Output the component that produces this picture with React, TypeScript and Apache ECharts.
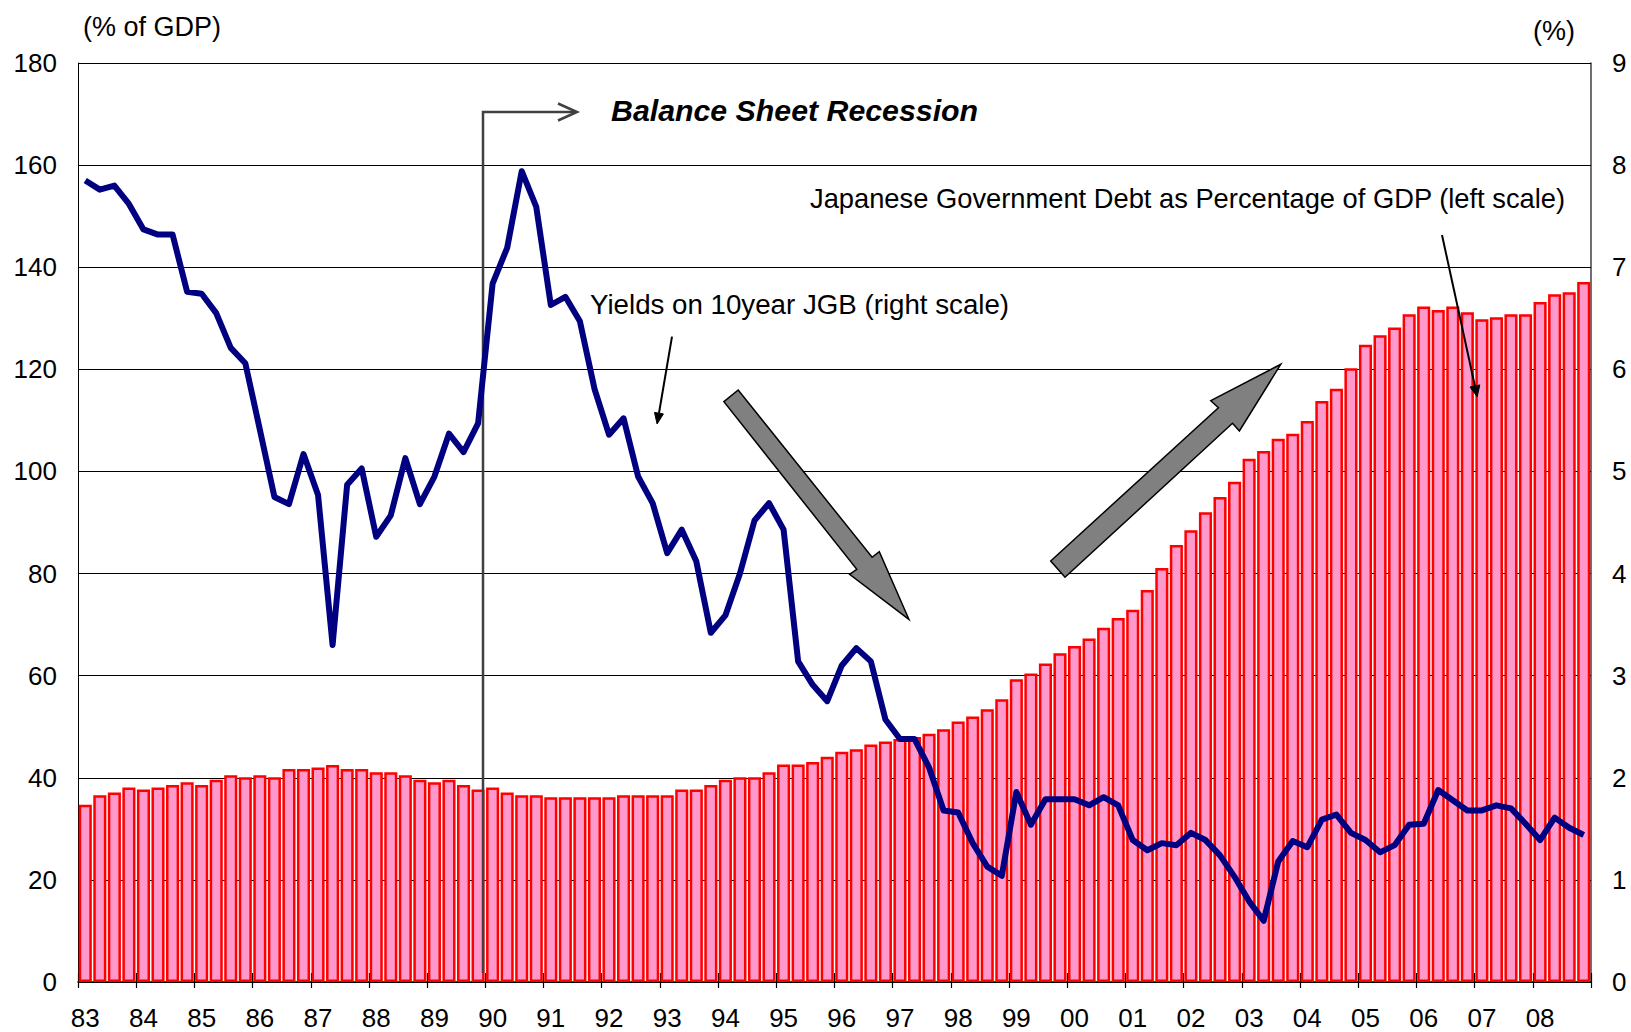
import React, { useEffect, useRef } from "react";
import * as echarts from "echarts";

const years: string[] = [
  "83", "84", "85", "86", "87", "88", "89", "90", "91", "92", "93", "94", "95",
  "96", "97", "98", "99", "00", "01", "02", "03", "04", "05", "06", "07", "08",
];

// Quarterly categories (Q1..Q4 for each year)
const quarters: string[] = years.flatMap((y) => [1, 2, 3, 4].map((q) => `${y}Q${q}`));

// Japanese Government Debt as % of GDP (left scale), quarterly 1983Q1 - 2008Q4
const debtToGdp: number[] = [
  34.7, 36.6, 37.1, 38.1, // 83
  37.7, 38.1, 38.6, 39.1, // 84
  38.6, 39.6, 40.5, 40.1, // 85
  40.5, 40.1, 41.7, 41.7, // 86
  42.0, 42.5, 41.7, 41.7, // 87
  41.1, 41.1, 40.5, 39.6, // 88
  39.1, 39.6, 38.6, 37.7, // 89
  38.1, 37.1, 36.6, 36.6, // 90
  36.2, 36.2, 36.2, 36.2, // 91
  36.2, 36.6, 36.6, 36.6, // 92
  36.6, 37.7, 37.7, 38.6, // 93
  39.6, 40.1, 40.1, 41.1, // 94
  42.6, 42.6, 43.1, 44.1, // 95
  45.1, 45.6, 46.5, 47.1, // 96
  47.6, 48.0, 48.6, 49.5, // 97
  51.0, 52.0, 53.4, 55.4, // 98
  59.3, 60.4, 62.4, 64.4, // 99
  65.8, 67.3, 69.4, 71.3, // 00
  72.9, 76.8, 81.1, 85.6, // 01
  88.5, 92.0, 95.0, 98.0, // 02
  102.5, 104.0, 106.4, 107.4, // 03
  109.9, 113.8, 116.2, 120.2, // 04
  124.8, 126.7, 128.2, 130.8, // 05
  132.3, 131.6, 132.3, 131.2, // 06
  129.8, 130.2, 130.8, 130.8, // 07
  133.2, 134.7, 135.1, 137.1, // 08
];

// Yields on 10-year JGB (right scale, %), quarterly
const jgbYield: number[] = [
  7.85, 7.76, 7.80, 7.62, // 83
  7.37, 7.32, 7.32, 6.76, // 84
  6.74, 6.55, 6.21, 6.06, // 85
  5.41, 4.75, 4.68, 5.17, // 86
  4.77, 3.30, 4.87, 5.03, // 87
  4.36, 4.57, 5.13, 4.68, // 88
  4.95, 5.37, 5.19, 5.47, // 89
  6.84, 7.19, 7.94, 7.59, // 90
  6.63, 6.71, 6.47, 5.81, // 91
  5.36, 5.52, 4.95, 4.69, // 92
  4.20, 4.43, 4.12, 3.42, // 93
  3.59, 4.00, 4.52, 4.69, // 94
  4.43, 3.14, 2.91, 2.75, // 95
  3.10, 3.27, 3.14, 2.57, // 96
  2.38, 2.38, 2.10, 1.68, // 97
  1.66, 1.36, 1.13, 1.04, // 98
  1.86, 1.54, 1.79, 1.79, // 99
  1.79, 1.73, 1.81, 1.73, // 00
  1.39, 1.29, 1.36, 1.34, // 01
  1.46, 1.39, 1.24, 1.03, // 02
  0.79, 0.60, 1.18, 1.38, // 03
  1.32, 1.59, 1.64, 1.46, // 04
  1.39, 1.27, 1.34, 1.54, // 05
  1.55, 1.88, 1.78, 1.68, // 06
  1.68, 1.73, 1.70, 1.55, // 07
  1.39, 1.61, 1.51, 1.44, // 08
];

const FONT = '"Liberation Sans", Arial, sans-serif';

export default function App() {
  const ref = useRef<HTMLDivElement>(null);

  useEffect(() => {
    document.body.style.margin = "0";
    if (!ref.current) return;
    const chart = echarts.init(ref.current, undefined, { renderer: "svg" });

    const option: any = {
      animation: false,
      backgroundColor: "#ffffff",
      textStyle: { fontFamily: FONT },
      grid: { left: 78, right: 40, top: 63, bottom: 50, containLabel: false },
      xAxis: [
        {
          type: "category",
          data: quarters,
          boundaryGap: true,
          axisLine: { show: true, lineStyle: { color: "#000", width: 1.5 } },
          axisTick: { show: true, interval: 3, alignWithLabel: false, inside: false, length: 6, lineStyle: { color: "#000", width: 1.2 } },
          axisLabel: {
            interval: 3,
            formatter: (v: string) => v.slice(0, 2),
            fontSize: 26,
            color: "#000",
            fontFamily: FONT,
            margin: 23,
          },
          splitLine: { show: false },
        },
        {
          type: "category",
          data: quarters,
          position: "bottom",
          boundaryGap: true,
          axisLine: { show: false },
          axisTick: { show: true, interval: 3, alignWithLabel: false, inside: true, length: 9, lineStyle: { color: "#000", width: 1.2 } },
          axisLabel: { show: false },
          splitLine: { show: false },
        },
      ],
      yAxis: [
        {
          type: "value",
          min: 0,
          max: 180,
          interval: 20,
          position: "left",
          axisLine: { show: true, lineStyle: { color: "#000", width: 1 } },
          axisTick: { show: true, inside: true, length: 8, lineStyle: { color: "#000" } },
          axisLabel: { fontSize: 26, color: "#000", fontFamily: FONT, margin: 21 },
          splitLine: { show: true, lineStyle: { color: "#000", width: 1 } },
        },
        {
          type: "value",
          min: 0,
          max: 9,
          interval: 1,
          position: "right",
          axisLine: { show: true, lineStyle: { color: "#404040", width: 1.5 } },
          axisTick: { show: true, inside: true, length: 7, lineStyle: { color: "#000" } },
          axisLabel: { fontSize: 26, color: "#000", fontFamily: FONT, margin: 21 },
          splitLine: { show: false },
        },
      ],
      series: [
        {
          name: "Japanese Government Debt as Percentage of GDP (left scale)",
          type: "bar",
          xAxisIndex: 0,
          yAxisIndex: 0,
          data: debtToGdp,
          barCategoryGap: "10%",
          itemStyle: { color: "#FF99CC", borderColor: "#FF0000", borderWidth: 2.5 },
          z: 2,
        },
        {
          name: "Yields on 10year JGB (right scale)",
          type: "line",
          xAxisIndex: 0,
          yAxisIndex: 1,
          data: jgbYield,
          symbol: "none",
          lineStyle: { color: "#000080", width: 6, join: "round" },
          z: 4,
        },
      ],
      graphic: [
        {
          type: "text",
          x: 83,
          y: 27,
          style: { text: "(% of GDP)", font: `27px ${FONT}`, fill: "#000", textVerticalAlign: "middle", verticalAlign: "middle" },
        },
        {
          type: "text",
          x: 1533,
          y: 31,
          style: { text: "(%)", font: `27px ${FONT}`, fill: "#000", textVerticalAlign: "middle", verticalAlign: "middle" },
        },
        {
          type: "polyline",
          z: 3,
          shape: { points: [[483, 973], [483, 112], [576, 112]] },
          style: { stroke: "#404040", lineWidth: 2.5, fill: null },
        },
        {
          type: "polyline",
          z: 3,
          shape: { points: [[558, 103.5], [577, 112], [558, 120.5]] },
          style: { stroke: "#404040", lineWidth: 2.5, fill: null },
        },
        {
          type: "text",
          x: 611,
          y: 110,
          style: {
            text: "Balance Sheet Recession",
            font: `italic bold 30.3px ${FONT}`,
            fill: "#000",
            textVerticalAlign: "middle",
            verticalAlign: "middle",
          },
        },
        {
          type: "text",
          x: 590,
          y: 304,
          style: {
            text: "Yields on 10year JGB (right scale)",
            font: `27.7px ${FONT}`,
            fill: "#000",
            textVerticalAlign: "middle",
            verticalAlign: "middle",
          },
        },
        {
          type: "line",
          z: 5,
          shape: { x1: 672, y1: 336.7, x2: 659, y2: 413 },
          style: { stroke: "#000", lineWidth: 2 },
        },
        {
          type: "polygon",
          z: 5,
          shape: { points: [[663.4, 413.9], [657.1, 424], [654.5, 412.4]] },
          style: { fill: "#000", stroke: "#000", lineWidth: 1 },
        },
        {
          type: "text",
          x: 810,
          y: 198,
          style: {
            text: "Japanese Government Debt as Percentage of GDP (left scale)",
            font: `27.3px ${FONT}`,
            fill: "#000",
            textVerticalAlign: "middle",
            verticalAlign: "middle",
          },
        },
        {
          type: "line",
          z: 5,
          shape: { x1: 1442, y1: 235, x2: 1474.9, y2: 386 },
          style: { stroke: "#000", lineWidth: 2 },
        },
        {
          type: "polygon",
          z: 5,
          shape: { points: [[1479.8, 384.9], [1477.2, 396.7], [1470.0, 387.1]] },
          style: { fill: "#000", stroke: "#000", lineWidth: 1 },
        },
        {
          type: "polygon",
          z: 5,
          shape: {
            points: [
              [723.9, 401.7], [738.2, 390], [872.1, 557.3], [879.3, 551.7],
              [908.9, 619.3], [849.6, 574.3], [856.8, 569.3],
            ],
          },
          style: { fill: "#808080", stroke: "#000", lineWidth: 1.5 },
        },
        {
          type: "polygon",
          z: 5,
          shape: {
            points: [
              [1050.7, 561], [1218.4, 407.7], [1210.8, 400.7], [1280.8, 364.3],
              [1239.4, 431], [1232.5, 423.3], [1065, 577.3],
            ],
          },
          style: { fill: "#808080", stroke: "#000", lineWidth: 1.5 },
        },
      ],
    };

    chart.setOption(option);
    return () => {
      chart.dispose();
    };
  }, []);

  return (
    <div
      ref={ref}
      style={{ position: "absolute", left: 0, top: 0, width: 1631, height: 1032 }}
    />
  );
}
